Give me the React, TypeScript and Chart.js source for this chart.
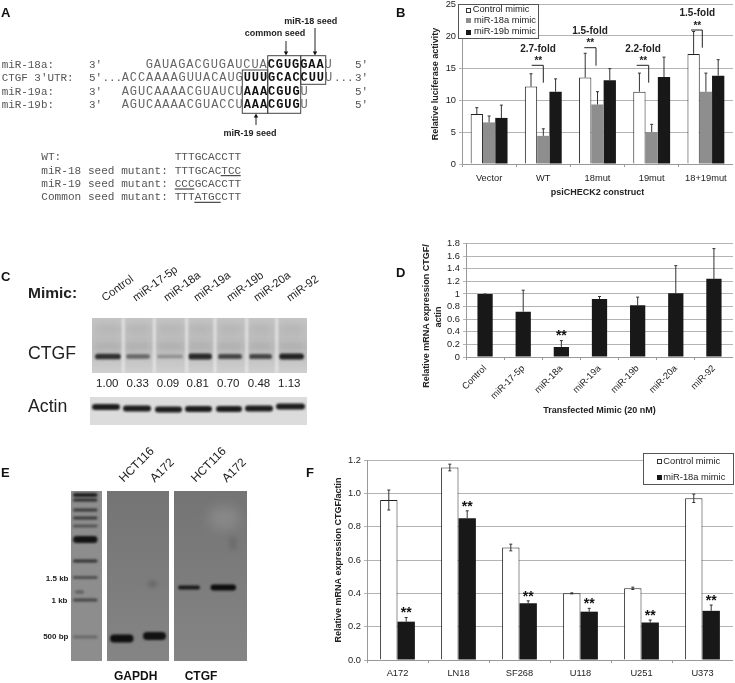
import React, { useEffect, useRef } from "react";
import { Chart, registerables } from "chart.js";

Chart.register(...registerables);

const FONT = '"Liberation Sans", Arial, sans-serif';
const MONO = '"Liberation Mono", "Courier New", monospace';

// Panel B
const bCategories = ["Vector", "WT", "18mut", "19mut", "18+19mut"];
const bControl = [7.8, 12.1, 13.5, 11.3, 17.2];
const bMiR18a = [6.5, 4.4, 9.3, 5.0, 11.3];
const bMiR19b = [7.2, 11.3, 13.1, 13.6, 13.8];
const bControlTop = [8.8, 14.1, 17.3, 14.2, 20.7];
const bMiR18aTop = [7.5, 5.5, 11.3, 6.2, 14.2];
const bMiR19bTop = [9.2, 13.3, 14.9, 16.7, 16.3];

// Panel D
const dCategories = ["Control", "miR-17-5p", "miR-18a", "miR-19a", "miR-19b", "miR-20a", "miR-92"];
const dValues = [1.0, 0.72, 0.16, 0.92, 0.82, 1.01, 1.24];
const dTop = [1.0, 1.06, 0.26, 0.96, 0.95, 1.45, 1.72];
const dStars = [false, false, true, false, false, false, false];

// Panel F
const fCategories = ["A172", "LN18", "SF268", "U118", "U251", "U373"];
const fControl = [0.96, 1.155, 0.675, 0.4, 0.43, 0.97];
const fControlTop = [1.02, 1.175, 0.695, 0.403, 0.437, 0.995];
const fControlLow = [0.9, 1.135, 0.655, 0.397, 0.423, 0.945];
const fMiR18a = [0.23, 0.85, 0.34, 0.29, 0.225, 0.295];
const fMiR18aTop = [0.255, 0.895, 0.355, 0.31, 0.24, 0.33];
const fStars = [true, true, true, true, true, true];

// Panel C
const cLabels = ["Control", "miR-17-5p", "miR-18a", "miR-19a", "miR-19b", "miR-20a", "miR-92"];
const cRatios = ["1.00", "0.33", "0.09", "0.81", "0.70", "0.48", "1.13"];
const cBandStrength = [0.9, 0.45, 0.14, 0.95, 0.72, 0.72, 1.0];

const errorBars = {
  id: "errorBars",
  afterDatasetsDraw(chart: any) {
    const { ctx } = chart;
    const y = chart.scales.y;
    chart.data.datasets.forEach((ds: any, i: number) => {
      const meta = chart.getDatasetMeta(i);
      meta.data.forEach((bar: any, j: number) => {
        ctx.save();
        ctx.strokeStyle = "#333";
        ctx.lineWidth = 1;
        const top = ds.errTop ? y.getPixelForValue(ds.errTop[j]) : bar.y;
        const low = ds.errLow ? y.getPixelForValue(ds.errLow[j]) : bar.y;
        ctx.beginPath();
        ctx.moveTo(bar.x, low);
        ctx.lineTo(bar.x, top);
        ctx.moveTo(bar.x - 1.5, top);
        ctx.lineTo(bar.x + 1.5, top);
        if (ds.errLow) {
          ctx.moveTo(bar.x - 1.5, low);
          ctx.lineTo(bar.x + 1.5, low);
        }
        ctx.stroke();
        if (ds.stars && ds.stars[j]) {
          ctx.fillStyle = "#111";
          ctx.font = `bold 14px ${FONT}`;
          ctx.textAlign = "center";
          ctx.textBaseline = "middle";
          ctx.fillText("**", bar.x, top - 4);
        }
        ctx.restore();
      });
    });
  },
};

type BarCfg = {
  labels: string[];
  datasets: any[];
  max: number;
  step: number;
  format?: (v: number) => string;
  yTitle?: string;
  xTitle?: string;
  yW: number;
  xH: number;
  padTop: number;
  catPct: number;
  rotate?: number;
  tickPad: number;
  xTitlePad?: number;
  titleSize: number;
};

function BarChart({ cfg, left, top, width, height }: { cfg: BarCfg; left: number; top: number; width: number; height: number }) {
  const ref = useRef<HTMLCanvasElement>(null);
  useEffect(() => {
    const chart = new Chart(ref.current as HTMLCanvasElement, {
      type: "bar",
      data: { labels: cfg.labels, datasets: cfg.datasets },
      plugins: [errorBars],
      options: {
        animation: false,
        responsive: false,
        devicePixelRatio: 1,
        layout: { autoPadding: false, padding: { top: cfg.padTop, left: 0, right: 0, bottom: 0 } },
        plugins: { legend: { display: false }, tooltip: { enabled: false } },
        datasets: { bar: { barPercentage: 1, categoryPercentage: cfg.catPct } },
        scales: {
          x: {
            grid: { drawOnChartArea: false, color: "#999", tickLength: 3, offset: true },
            border: { color: "#999" },
            ticks: {
              color: "#222",
              font: { family: FONT, size: 9.3 },
              padding: cfg.tickPad,
              maxRotation: cfg.rotate ?? 0,
              minRotation: cfg.rotate ?? 0,
              autoSkip: false,
            },
            title: cfg.xTitle
              ? {
                  display: true,
                  text: cfg.xTitle,
                  color: "#222",
                  font: { family: FONT, size: cfg.titleSize, weight: "bold" },
                  padding: { top: 0, bottom: cfg.xTitlePad ?? 2 },
                }
              : { display: false },
            afterFit: (s: any) => {
              s.height = cfg.xH;
            },
          },
          y: {
            min: 0,
            max: cfg.max,
            grid: { color: "#b4b4b4", tickLength: 3 },
            border: { color: "#999" },
            ticks: {
              stepSize: cfg.step,
              autoSkip: false,
              color: "#222",
              font: { family: FONT, size: 9.3 },
              padding: 3,
              callback: (v: any) => (cfg.format ? cfg.format(Number(v)) : String(v)),
            },
            title: cfg.yTitle
              ? {
                  display: true,
                  text: cfg.yTitle,
                  color: "#222",
                  font: { family: FONT, size: cfg.titleSize, weight: "bold" },
                  padding: 0,
                }
              : { display: false },
            afterFit: (s: any) => {
              s.width = cfg.yW;
            },
          },
        },
      } as any,
    });
    return () => chart.destroy();
  }, []);
  return <canvas ref={ref} width={width} height={height} style={{ position: "absolute", left, top, width, height }} />;
}

const bCfg: BarCfg = {
  labels: bCategories,
  datasets: [
    { label: "Control mimic", data: bControl, errTop: bControlTop, backgroundColor: "#fff", borderColor: "#222", borderWidth: 1 },
    { label: "miR-18a mimic", data: bMiR18a, errTop: bMiR18aTop, backgroundColor: "#8e8e8e" },
    { label: "miR-19b mimic", data: bMiR19b, errTop: bMiR19bTop, backgroundColor: "#181818" },
  ],
  max: 25,
  step: 5,
  yTitle: "Relative luciferase activity",
  xTitle: "psiCHECK2 construct",
  yW: 32,
  xH: 36,
  padTop: 14,
  catPct: 0.68,
  tickPad: 6,
  titleSize: 9,
};

const dCfg: BarCfg = {
  labels: dCategories,
  datasets: [{ label: "Relative mRNA", data: dValues, errTop: dTop, stars: dStars, backgroundColor: "#181818" }],
  max: 1.8,
  step: 0.2,
  format: (v) => String(Math.round(v * 10) / 10),
  xTitle: "Transfected Mimic (20 nM)",
  yW: 45,
  xH: 61,
  padTop: 7,
  catPct: 0.4,
  rotate: 45,
  tickPad: 3,
  titleSize: 9,
};

const fCfg: BarCfg = {
  labels: fCategories,
  datasets: [
    { label: "Control mimic", data: fControl, errTop: fControlTop, errLow: fControlLow, backgroundColor: "#fff", borderColor: "#222", borderWidth: 1 },
    { label: "miR-18a mimic", data: fMiR18a, errTop: fMiR18aTop, stars: fStars, backgroundColor: "#181818" },
  ],
  max: 1.2,
  step: 0.2,
  format: (v) => v.toFixed(1),
  yTitle: "Relative mRNA expression CTGF/actin",
  yW: 34,
  xH: 23,
  padTop: 10,
  catPct: 0.57,
  tickPad: 5,
  titleSize: 9,
};

function T({ x, y, s, size = 9, bold, mono, anchor, rot, color = "#222", spacing }: any) {
  const shift = anchor === "middle" ? "translate(-50%,-50%)" : anchor === "end" ? "translate(-100%,-50%)" : "translateY(-50%)";
  return (
    <div
      style={{
        position: "absolute",
        left: x,
        top: y,
        whiteSpace: "pre",
        lineHeight: 1,
        fontFamily: mono ? MONO : FONT,
        fontSize: size,
        fontWeight: bold ? 700 : 400,
        color,
        letterSpacing: spacing,
        transformOrigin: anchor === "middle" ? "50% 50%" : "0 50%",
        transform: shift + (rot ? ` rotate(${rot}deg)` : ""),
      }}
    >
      {s}
    </div>
  );
}

function Legend({ box, items }: { box: number[]; items: { label: string; fill: string; y: number; sx: number; tx: number; stroke?: boolean }[] }) {
  return (
    <>
      <div
        style={{
          position: "absolute",
          left: box[0],
          top: box[1],
          width: box[2] - box[0],
          height: box[3] - box[1],
          boxSizing: "border-box",
          background: "#fff",
          border: "1px solid #555",
        }}
      />
      {items.map((it) => (
        <React.Fragment key={it.label}>
          <div
            style={{
              position: "absolute",
              left: it.sx,
              top: it.y - 2.5,
              width: 5,
              height: 5,
              boxSizing: "border-box",
              background: it.fill,
              border: it.stroke ? "1px solid #333" : "none",
            }}
          />
          <T x={it.tx} y={it.y} s={it.label} size={9.3} />
        </React.Fragment>
      ))}
    </>
  );
}

function drawBlots(ctx: CanvasRenderingContext2D) {
  const band = (x0: number, x1: number, y: number, h: number, color: string, blur = 1) => {
    ctx.filter = `blur(${blur}px)`;
    ctx.fillStyle = color;
    ctx.beginPath();
    (ctx as any).roundRect(x0, y - h / 2, x1 - x0, h, h / 2);
    ctx.fill();
    ctx.filter = "none";
  };
  const clipRect = (x: number, y: number, w: number, h: number, fn: () => void) => {
    ctx.save();
    ctx.beginPath();
    ctx.rect(x, y, w, h);
    ctx.clip();
    fn();
    ctx.restore();
  };

  // Panel C, CTGF blot
  clipRect(92, 318, 215, 55, () => {
    const g = ctx.createLinearGradient(0, 318, 0, 373);
    g.addColorStop(0, "#c4c4c4");
    g.addColorStop(0.55, "#bcbcbc");
    g.addColorStop(1, "#cfcfcf");
    ctx.fillStyle = g;
    ctx.fillRect(92, 318, 215, 55);
    const lanes = [[95, 121], [126, 150], [157, 183], [188, 212], [218, 242], [249, 272], [279, 304]];
    lanes.forEach((l, i) => {
      band(l[0], l[1], 329, 10, "rgba(120,120,120,0.14)", 3);
      band(l[0], l[1], 346, 8, "rgba(110,110,110,0.16)", 3);
      const s = cBandStrength[i];
      band(l[0], l[1], 356.5, 3 + 3 * s, `rgba(25,25,25,${0.2 + 0.75 * s})`, 1);
    });
    [123.3, 154.3, 186.7, 215, 246.7, 276.7].forEach((x) => {
      ctx.filter = "blur(1.2px)";
      ctx.fillStyle = "rgba(235,235,235,0.75)";
      ctx.fillRect(x - 1.5, 318, 3, 55);
      ctx.filter = "none";
    });
  });

  // Panel C, Actin blot
  clipRect(90, 397, 217, 28, () => {
    ctx.fillStyle = "#dcdcdc";
    ctx.fillRect(90, 397, 217, 28);
    const lanes: number[][] = [[92, 120, 407], [123, 151, 408.5], [155, 182, 409.5], [185, 212, 409], [216, 242, 409], [245, 273, 408.5], [276, 305, 406.5]];
    lanes.forEach((l) => band(l[0], l[1], l[2], 6, "#1d1d1d", 1));
  });

  // Panel E, ladder
  ctx.fillStyle = "#8d8d8d";
  ctx.fillRect(71, 491, 31, 170);
  const ladder: number[][] = [[495, 4, 0.9], [500, 3, 0.8], [510, 3, 0.7], [518, 3, 0.7], [526, 2.5, 0.55], [539.5, 7, 1], [561, 3, 0.75], [577.5, 2.5, 0.6], [600, 3, 0.6], [637, 3, 0.3]];
  ladder.forEach((b) => band(73, 97.5, b[0], b[1], `rgba(20,20,20,${b[2]})`, 0.8));
  band(75, 84, 592, 3, "rgba(30,30,30,0.45)", 1);

  // Panel E, GAPDH gel
  const g1 = ctx.createLinearGradient(0, 491, 0, 661);
  g1.addColorStop(0, "#747474");
  g1.addColorStop(0.5, "#7c7c7c");
  g1.addColorStop(1, "#858585");
  ctx.fillStyle = g1;
  ctx.fillRect(107, 491, 62, 170);
  band(110, 133.5, 638.5, 8, "#0f0f0f", 1);
  band(143, 166, 636, 8, "#111", 1);
  band(148, 157, 584, 6, "rgba(50,50,50,0.3)", 2);

  // Panel E, CTGF gel
  ctx.fillStyle = g1;
  ctx.fillRect(174, 491, 73, 170);
  band(208, 240, 518, 24, "rgba(170,170,170,0.35)", 6);
  band(178, 200, 587.5, 4, "#191919", 0.8);
  band(210.5, 236, 587.5, 6, "#0d0d0d", 0.8);
  band(230, 236, 543, 14, "rgba(60,60,60,0.22)", 2);
}

function Overlay() {
  const L = (x1: number, y1: number, x2: number, y2: number, w = 1, c = "#222") => <line x1={x1} y1={y1} x2={x2} y2={y2} stroke={c} strokeWidth={w} />;
  const head = (x: number, y: number, dir: number) => <polygon points={`${x - 2.2},${y - 4 * dir} ${x + 2.2},${y - 4 * dir} ${x},${y}`} fill="#111" />;
  return (
    <svg width={735} height={683} style={{ position: "absolute", left: 0, top: 0 }}>
      {/* Panel A boxes */}
      <rect x={267.7} y={55.7} width={33} height={57.6} fill="none" stroke="#444" />
      <rect x={300.7} y={55.7} width={25} height={28.6} fill="none" stroke="#444" />
      <rect x={242.3} y={70} width={25.4} height={43.3} fill="none" stroke="#444" />
      {L(286, 41, 286, 52)}
      {head(286, 55.5, 1)}
      {L(315, 28, 315, 52)}
      {head(315, 55.5, 1)}
      {L(256, 125, 256, 117)}
      {head(256, 113.5, -1)}
      {L(220.7, 175.7, 240.7, 175.7)}
      {L(174.7, 189, 194.3, 189)}
      {L(194.3, 202.3, 220.7, 202.3)}
      {/* Panel B brackets */}
      {L(531.7, 65.3, 543.3, 65.3)}
      {L(543.3, 65.3, 543.3, 82.7)}
      {L(584.3, 47.7, 596, 47.7)}
      {L(596, 47.7, 596, 65.7)}
      {L(636.7, 65.3, 648.7, 65.3)}
      {L(648.7, 65.3, 648.7, 82.7)}
      {L(691, 30, 702.3, 30)}
      {L(702.3, 30, 702.3, 47.7)}
    </svg>
  );
}

export default function App() {
  const blotRef = useRef<HTMLCanvasElement>(null);
  useEffect(() => {
    document.body.style.margin = "0";
    document.body.style.background = "#fff";
    const ctx = (blotRef.current as HTMLCanvasElement).getContext("2d");
    if (ctx) drawBlots(ctx);
  }, []);

  const seqS = 0.93;
  const seq = (x: number, y: number, s: string, bold = false) => (
    <T x={x} y={y} s={s} mono size={12} spacing={seqS} bold={bold} color={bold ? "#111" : "#666"} />
  );
  const lab = (x: number, y: number, s: string) => <T x={x} y={y} s={s} mono size={10.9} color="#555" />;
  const rows = [65, 78.3, 91.7, 105];
  const mutRows = [157.7, 171.7, 185, 198];
  const cX = [107.3, 137.7, 168, 197.7, 228.3, 259, 289.3];
  const cStart = [103, 134, 165, 195, 228, 255, 288];

  return (
    <div style={{ position: "absolute", left: 0, top: 0, width: 735, height: 683, overflow: "hidden", background: "#fff", fontFamily: FONT, filter: "blur(0.3px)" }}>
      <canvas ref={blotRef} width={735} height={683} style={{ position: "absolute", left: 0, top: 0 }} />
      <BarChart cfg={bCfg} left={430} top={-10} width={303} height={210} />
      <BarChart cfg={dCfg} left={421} top={235} width={312} height={183} />
      <BarChart cfg={fCfg} left={333} top={450} width={400} height={233} />
      <Overlay />

      {/* Panel letters */}
      <T x={1} y={12} s="A" size={13} bold color="#111" />
      <T x={396} y={12} s="B" size={13} bold color="#111" />
      <T x={1} y={276} s="C" size={13} bold color="#111" />
      <T x={396} y={272} s="D" size={13} bold color="#111" />
      <T x={1} y={472} s="E" size={13} bold color="#111" />
      <T x={306} y={472} s="F" size={13} bold color="#111" />

      {/* Panel A */}
      <T x={310.7} y={21} s="miR-18 seed" size={9} bold anchor="middle" />
      <T x={275} y={33} s="common seed" size={9} bold anchor="middle" />
      <T x={250} y={132.7} s="miR-19 seed" size={9} bold anchor="middle" />
      {lab(1.7, rows[0], "miR-18a:")}
      {lab(1.7, rows[1], "CTGF 3'UTR:")}
      {lab(1.7, rows[2], "miR-19a:")}
      {lab(1.7, rows[3], "miR-19b:")}
      {lab(89, rows[0], "3'")}
      {lab(89, rows[1], "5'")}
      {lab(89, rows[2], "3'")}
      {lab(89, rows[3], "3'")}
      {lab(355, rows[0], "5'")}
      {lab(355, rows[2], "5'")}
      {lab(355, rows[3], "5'")}
      {seq(145.7, rows[0], "GAUAGACGUGAUCUA")}
      {seq(267.7, rows[0], "CGUGGAA", true)}
      {seq(324.6, rows[0], "U")}
      {lab(102.5, rows[1], "...")}
      {seq(121.7, rows[1], "ACCAAAAGUUACAUG")}
      {seq(243.7, rows[1], "UUUGCACCUU", true)}
      {seq(325, rows[1], "U")}
      {lab(334, rows[1], "...")}
      {lab(355, rows[1], "3'")}
      {seq(121.7, rows[2], "AGUCAAAACGUAUCU")}
      {seq(243.7, rows[2], "AAACGUG", true)}
      {seq(300.6, rows[2], "U")}
      {seq(121.7, rows[3], "AGUCAAAACGUACCU")}
      {seq(243.7, rows[3], "AAACGUG", true)}
      {seq(300.6, rows[3], "U")}
      <T x={41.3} y={mutRows[0]} s="WT:" mono size={11.1} color="#555" />
      <T x={41.3} y={mutRows[1]} s="miR-18 seed mutant:" mono size={11.1} color="#555" />
      <T x={41.3} y={mutRows[2]} s="miR-19 seed mutant:" mono size={11.1} color="#555" />
      <T x={41.3} y={mutRows[3]} s="Common seed mutant:" mono size={11.1} color="#555" />
      <T x={174.7} y={mutRows[0]} s="TTTGCACCTT" mono size={11.1} color="#555" />
      <T x={174.7} y={mutRows[1]} s="TTTGCACTCC" mono size={11.1} color="#555" />
      <T x={174.7} y={mutRows[2]} s="CCCGCACCTT" mono size={11.1} color="#555" />
      <T x={174.7} y={mutRows[3]} s="TTTATGCCTT" mono size={11.1} color="#555" />

      {/* Panel B annotations */}
      <Legend
        box={[458, 4, 539, 39]}
        items={[
          { label: "Control mimic", fill: "#fff", stroke: true, y: 10, sx: 466, tx: 472.7 },
          { label: "miR-18a mimic", fill: "#8e8e8e", y: 20.7, sx: 466, tx: 474 },
          { label: "miR-19b mimic", fill: "#181818", y: 32, sx: 466, tx: 474 },
        ]}
      />
      <T x={538} y={49} s="2.7-fold" size={10} bold anchor="middle" />
      <T x={590} y={31} s="1.5-fold" size={10} bold anchor="middle" />
      <T x={643} y={49} s="2.2-fold" size={10} bold anchor="middle" />
      <T x={697.3} y={13} s="1.5-fold" size={10} bold anchor="middle" />
      <T x={538.3} y={61} s="**" size={10} bold anchor="middle" />
      <T x={590.3} y={43} s="**" size={10} bold anchor="middle" />
      <T x={643.3} y={61} s="**" size={10} bold anchor="middle" />
      <T x={697.3} y={26} s="**" size={10} bold anchor="middle" />

      {/* Panel C */}
      <T x={28} y={293} s="Mimic:" size={15.5} bold color="#222" />
      {cLabels.map((s, i) => (
        <T key={s} x={cStart[i]} y={299} s={s} size={11.2} rot={-36} color="#222" />
      ))}
      <T x={28} y={354} s="CTGF" size={17.7} color="#222" />
      {cRatios.map((s, i) => (
        <T key={i} x={cX[i]} y={383.7} s={s} size={11.5} anchor="middle" color="#222" />
      ))}
      <T x={28} y={406.7} s="Actin" size={17.7} color="#222" />

      {/* Panel D y title */}
      <T x={426} y={316} s="Relative mRNA expression CTGF/" size={9} bold anchor="middle" rot={-90} />
      <T x={438} y={317} s="actin" size={9} bold anchor="middle" rot={-90} />

      {/* Panel E */}
      <T x={121} y={480} s="HCT116" size={12} rot={-45} />
      <T x={152} y={480} s="A172" size={12} rot={-45} />
      <T x={192.5} y={480} s="HCT116" size={12} rot={-45} />
      <T x={223.5} y={480} s="A172" size={12} rot={-45} />
      <T x={68.5} y={579} s="1.5 kb" size={8} bold anchor="end" />
      <T x={67.5} y={601} s="1 kb" size={8} bold anchor="end" />
      <T x={68.5} y={637.3} s="500 bp" size={8} bold anchor="end" />
      <T x={135.7} y={676} s="GAPDH" size={12} bold anchor="middle" color="#111" />
      <T x={201} y={676} s="CTGF" size={12} bold anchor="middle" color="#111" />

      {/* Panel F legend */}
      <Legend
        box={[643, 453, 734, 484.5]}
        items={[
          { label: "Control mimic", fill: "#fff", stroke: true, y: 461.7, sx: 656.5, tx: 663.3 },
          { label: "miR-18a mimic", fill: "#181818", y: 477.7, sx: 656.5, tx: 663.3 },
        ]}
      />
    </div>
  );
}
